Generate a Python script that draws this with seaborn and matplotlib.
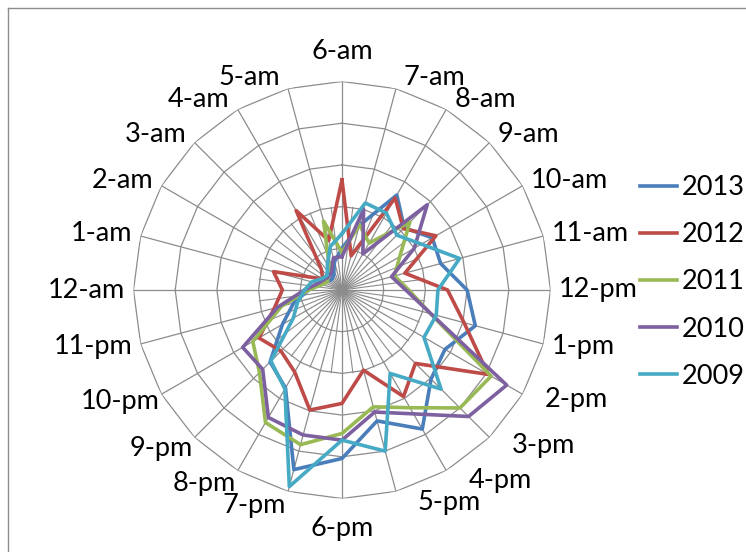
import numpy as np
import pandas as pd
import matplotlib
matplotlib.use("Agg")
import matplotlib.pyplot as plt
from matplotlib.lines import Line2D
import seaborn as sns

plt.rcParams['font.family'] = ['Lato', 'DejaVu Sans']

# categories, clockwise from the top
hours = ["6-am", "7-am", "8-am", "9-am", "10-am", "11-am", "12-pm", "1-pm",
         "2-pm", "3-pm", "4-pm", "5-pm", "6-pm", "7-pm", "8-pm", "9-pm",
         "10-pm", "11-pm", "12-am", "1-am", "2-am", "3-am", "4-am", "5-am"]
years = ["2013", "2012", "2011", "2010", "2009"]

y2013 = [1.0, 1.6, 2.63, 2.11, 2.5, 2.45, 3.0, 3.31, 2.85, 3.02, 3.85, 3.25,
         4.04, 4.46, 2.71, 2.44, 1.65, 1.2, 0.8, 0.6, 0.4, 0.35, 0.4, 0.7]
y2012 = [2.64, 0.85, 2.55, 2.08, 2.6, 1.56, 2.53, 3.03, 4.05, 2.49, 2.95, 1.99,
         2.72, 2.98, 2.27, 2.07, 2.3, 1.68, 1.43, 1.7, 0.53, 0.7, 2.2, 1.23]
y2011 = [0.9, 1.62, 1.3, 2.3, 1.6, 1.3, 1.6, 2.2, 4.13, 4.0, 3.26, 2.9,
         3.44, 3.84, 3.67, 2.8, 2.47, 1.5, 0.8, 0.5, 0.4, 0.5, 0.6, 1.71]
y2010 = [0.8, 2.0, 1.0, 2.89, 2.0, 1.23, 1.53, 2.21, 4.56, 4.29, 3.43, 3.03,
         3.6, 3.6, 3.53, 2.69, 2.75, 1.6, 0.9, 0.6, 0.5, 0.45, 0.5, 0.8]
y2009 = [1.35, 2.16, 2.13, 1.86, 2.2, 2.92, 2.3, 2.34, 2.27, 3.36, 2.31, 4.0,
         3.6, 4.88, 2.74, 2.41, 1.35, 1.1, 0.9, 0.75, 0.55, 0.5, 0.7, 1.08]

colors = ["#4A7EBB", "#BE4B48", "#98B954", "#7D60A0", "#46AAC5"]
grid_color = "#8c8c8c"
rmax = 5

n = len(hours)
angles = np.linspace(0, 2 * np.pi, n, endpoint=False)
closed = np.append(angles, 2 * np.pi)

# long table, each loop closed back to its first point
rows = []
for year, vals in zip(years, [y2013, y2012, y2011, y2010, y2009]):
    for a, v in zip(closed, vals + vals[:1]):
        rows.append({"year": year, "theta": a, "value": v})
df = pd.DataFrame(rows)

fig = plt.figure(figsize=(7.46, 5.52), dpi=100)
R = 208.5  # outer ring radius in px
ax = fig.add_axes([(342 - R) / 746, (552 - 290 - R) / 552, 2 * R / 746, 2 * R / 552],
                  projection="polar")
ax.set_theta_zero_location("N")
ax.set_theta_direction(-1)

# polygon web like an Excel radar chart
for k in range(1, rmax + 1):
    ax.plot(closed, [k] * len(closed), color=grid_color, lw=0.9, zorder=0)
for a in angles:
    ax.plot([a, a], [0, rmax], color=grid_color, lw=0.9, zorder=0)
for a in np.linspace(0, 2 * np.pi, 2 * n, endpoint=False)[1::2]:
    ax.plot([a, a], [0, 2], color=grid_color, lw=0.8, zorder=0)

sns.lineplot(data=df, x="theta", y="value", hue="year", hue_order=years,
             palette=colors, sort=False, estimator=None, lw=2.6, ax=ax,
             legend=False, zorder=3)

ax.set_ylim(0, rmax)
ax.grid(False)
ax.spines["polar"].set_visible(False)
ax.set_xticks([])
ax.set_yticks([])
ax.set_xlabel("")
ax.set_ylabel("")

# category labels, anchored at the outer vertex the way Excel does it
px = 0.72  # pixels -> points at 100 dpi
for a, lab in zip(angles, hours):
    s, c = np.sin(a), np.cos(a)
    if abs(s) < 0.1:
        ha, dx, dy = "center", 0, 30 * np.sign(c)
    else:
        if c > -0.3:
            gap, lift = 8, 11.5
        elif s > 0:
            gap, lift = 22, 11.5
        else:
            gap, lift = 2, 15
        ha = "left" if s > 0 else "right"
        dx, dy = gap * np.sign(s), lift * c
    ax.annotate(lab, xy=(a, rmax), xytext=(dx * px, dy * px), textcoords="offset points",
                ha=ha, va="center", fontsize=19.5, color="#000000")

handles = [Line2D([0], [0], color=c, lw=2.6) for c in colors]
fig.legend(handles, years, loc="upper left", bbox_to_anchor=(640 / 746, 1 - 175 / 552),
           frameon=False, fontsize=19.5, handlelength=1.35, handletextpad=0.2,
           labelspacing=0.82, borderpad=0, borderaxespad=0)

# chart frame (top and left edges visible)
fig.add_artist(Line2D([8 / 746, 1], [1 - 8 / 552, 1 - 8 / 552], transform=fig.transFigure,
                      color="#8c8c8c", lw=1))
fig.add_artist(Line2D([8 / 746, 8 / 746], [0, 1 - 8 / 552], transform=fig.transFigure,
                      color="#8c8c8c", lw=1))

fig.savefig("out.png", dpi=100)
